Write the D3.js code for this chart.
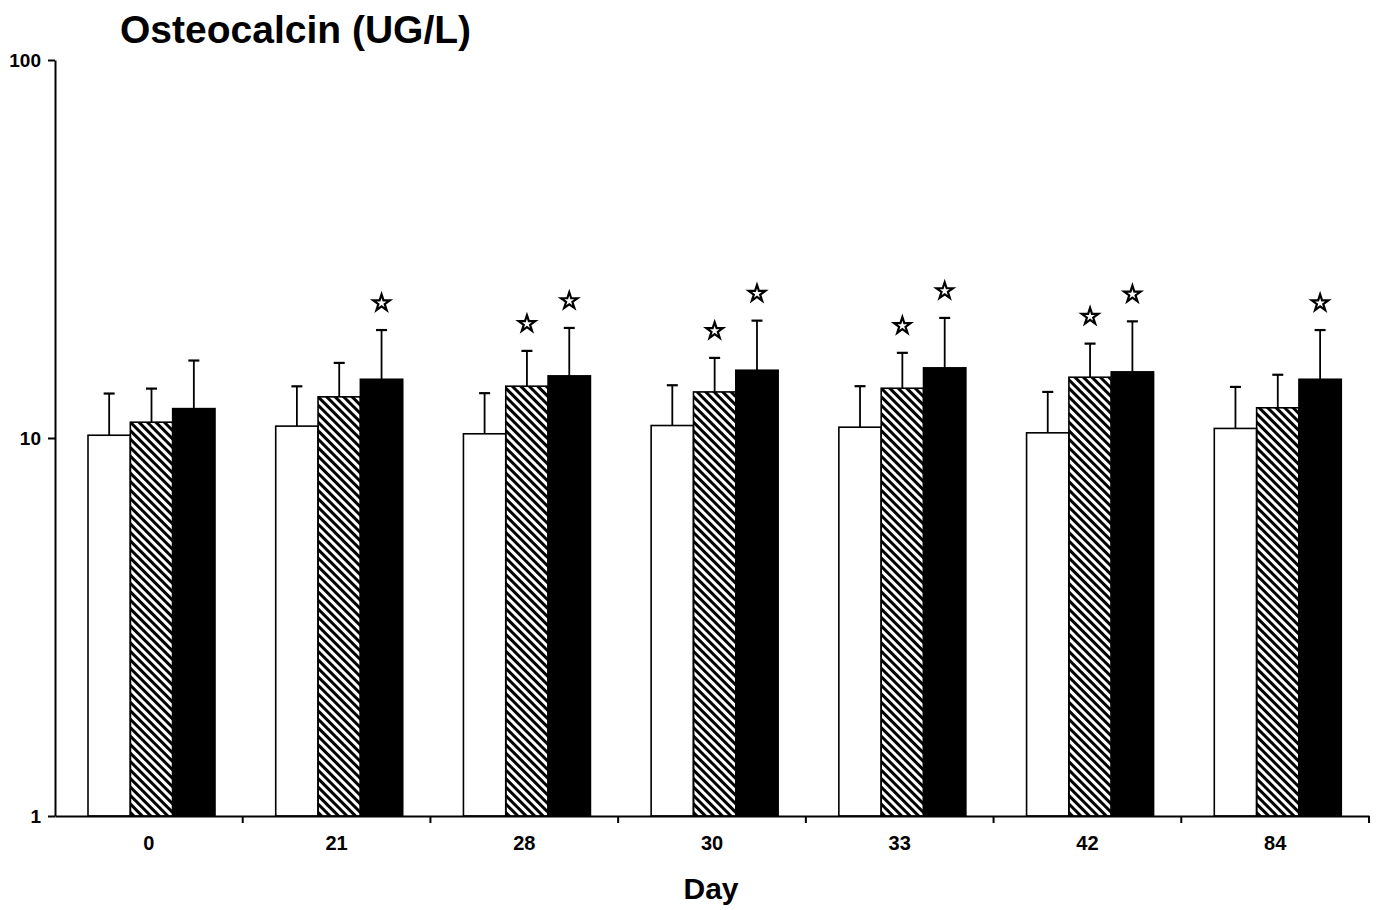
<!DOCTYPE html>
<html>
<head>
<meta charset="utf-8">
<script src="https://cdn.jsdelivr.net/npm/d3@7"></script>
<style>
	body { margin: 0; background: #fff; }
	text { font-family: "Liberation Sans", Arial, sans-serif; font-weight: bold; fill: #000; }
</style>
</head>
<body>
<div class="svg-container"></div>
<script>
(function () {

	"use strict";

	// data
	var days = ["0", "21", "28", "30", "33", "42", "84"];
	var groups = ["Group 1", "Group 2", "Group 3"];

	// mean values (UG/L)
	var group1_mean = [10.17, 10.75, 10.26, 10.79, 10.68, 10.32, 10.6];
	var group2_mean = [11.01, 12.85, 13.71, 13.24, 13.54, 14.48, 12.02];
	var group3_mean = [11.96, 14.3, 14.6, 15.11, 15.33, 14.96, 14.3];

	// top of the error bars (mean + SD)
	var group1_upper = [13.11, 13.7, 13.14, 13.79, 13.71, 13.24, 13.65];
	var group2_upper = [13.51, 15.8, 17.0, 16.29, 16.8, 17.77, 14.7];
	var group3_upper = [16.03, 19.3, 19.55, 20.44, 20.78, 20.35, 19.3];

	// significance marks (star above the bar)
	var group1_sig = [0, 0, 0, 0, 0, 0, 0];
	var group2_sig = [0, 0, 1, 1, 1, 1, 0];
	var group3_sig = [0, 1, 1, 1, 1, 1, 1];

	var y_ticks = [1, 10, 100];

	var means = [group1_mean, group2_mean, group3_mean],
		uppers = [group1_upper, group2_upper, group3_upper],
		sigs = [group1_sig, group2_sig, group3_sig];

	var rows = [];
	days.forEach(function (d, i) {
		groups.forEach(function (g, j) {
			rows.push({ day: d, group: g, gi: j, value: means[j][i], upper: uppers[j][i], sig: sigs[j][i] });
		});
	});

	var width = 1376, height = 910;
	var left = 55, right = 1369, top = 60, bottom = 816;

	var svg = d3.select(".svg-container").append("svg")
		.attr("width", width)
		.attr("height", height);

	// hatch for the middle group
	svg.append("defs").append("pattern")
		.attr("id", "hatch")
		.attr("patternUnits", "userSpaceOnUse")
		.attr("width", 6)
		.attr("height", 6)
		.attr("patternTransform", "rotate(-45)")
		.append("rect")
		.attr("width", 3)
		.attr("height", 6)
		.attr("fill", "#000");

	var x0 = d3.scaleBand().domain(days).range([left, right]);
	var x1 = d3.scaleBand().domain(groups).range([33, 160]);
	var y = d3.scaleLog().domain([1, 100]).range([bottom, top]);

	var fills = ["#fff", "url(#hatch)", "#000"];

	var bars = svg.append("g").selectAll("g")
		.data(rows)
		.enter()
		.append("g")
		.attr("transform", function (d) { return "translate(" + (x0(d.day) + x1(d.group)) + ",0)"; });

	var bw = x1.bandwidth();

	// error bars (drawn first so the bar top covers the stem)
	bars.append("line")
		.attr("x1", bw / 2).attr("x2", bw / 2)
		.attr("y1", function (d) { return y(d.value); })
		.attr("y2", function (d) { return y(d.upper); })
		.attr("stroke", "#000").attr("stroke-width", 1.8);

	bars.append("line")
		.attr("x1", bw / 2 - 5.5).attr("x2", bw / 2 + 5.5)
		.attr("y1", function (d) { return y(d.upper); })
		.attr("y2", function (d) { return y(d.upper); })
		.attr("stroke", "#000").attr("stroke-width", 2.2);

	bars.append("rect")
		.attr("x", 0)
		.attr("width", bw)
		.attr("y", function (d) { return y(d.value); })
		.attr("height", function (d) { return bottom - y(d.value); })
		.attr("fill", function (d) { return fills[d.gi]; })
		.attr("stroke", "#000")
		.attr("stroke-width", 1.6);

	// stars
	bars.filter(function (d) { return d.sig; })
		.append("path")
		.attr("d", d3.symbol(d3.symbolStar, 85))
		.attr("transform", function (d) { return "translate(" + (bw / 2) + "," + (y(d.upper) - 27) + ")"; })
		.attr("fill", "#fff")
		.attr("stroke", "#000")
		.attr("stroke-width", 2.2);

	// y axis
	var yAxis = svg.append("g")
		.attr("transform", "translate(" + left + ",0)")
		.call(d3.axisLeft(y).tickValues(y_ticks).tickFormat(d3.format("d")).tickSize(7).tickSizeOuter(0).tickPadding(7));
	yAxis.select(".domain").attr("stroke-width", 2);
	yAxis.selectAll(".tick line").attr("stroke-width", 2);
	yAxis.selectAll("text").style("font-size", "19px");

	// x axis
	var xAxis = svg.append("g")
		.attr("transform", "translate(0," + bottom + ")")
		.call(d3.axisBottom(x0).tickSize(0).tickPadding(20));
	xAxis.select(".domain").attr("stroke-width", 2.2);
	xAxis.selectAll("text").style("font-size", "20px");

	xAxis.selectAll(".sep")
		.data(days.slice(1).concat(["end"]))
		.enter()
		.append("line")
		.attr("x1", function (d) { return d === "end" ? right : x0(d); })
		.attr("x2", function (d) { return d === "end" ? right : x0(d); })
		.attr("y1", 0).attr("y2", 7)
		.attr("stroke", "#000").attr("stroke-width", 2);

	svg.append("text")
		.attr("x", 711)
		.attr("y", 899)
		.attr("text-anchor", "middle")
		.style("font-size", "30px")
		.text("Day");

	svg.append("text")
		.attr("x", 120)
		.attr("y", 43)
		.style("font-size", "39px")
		.text("Osteocalcin (UG/L)");

})();
</script>
</body>
</html>
